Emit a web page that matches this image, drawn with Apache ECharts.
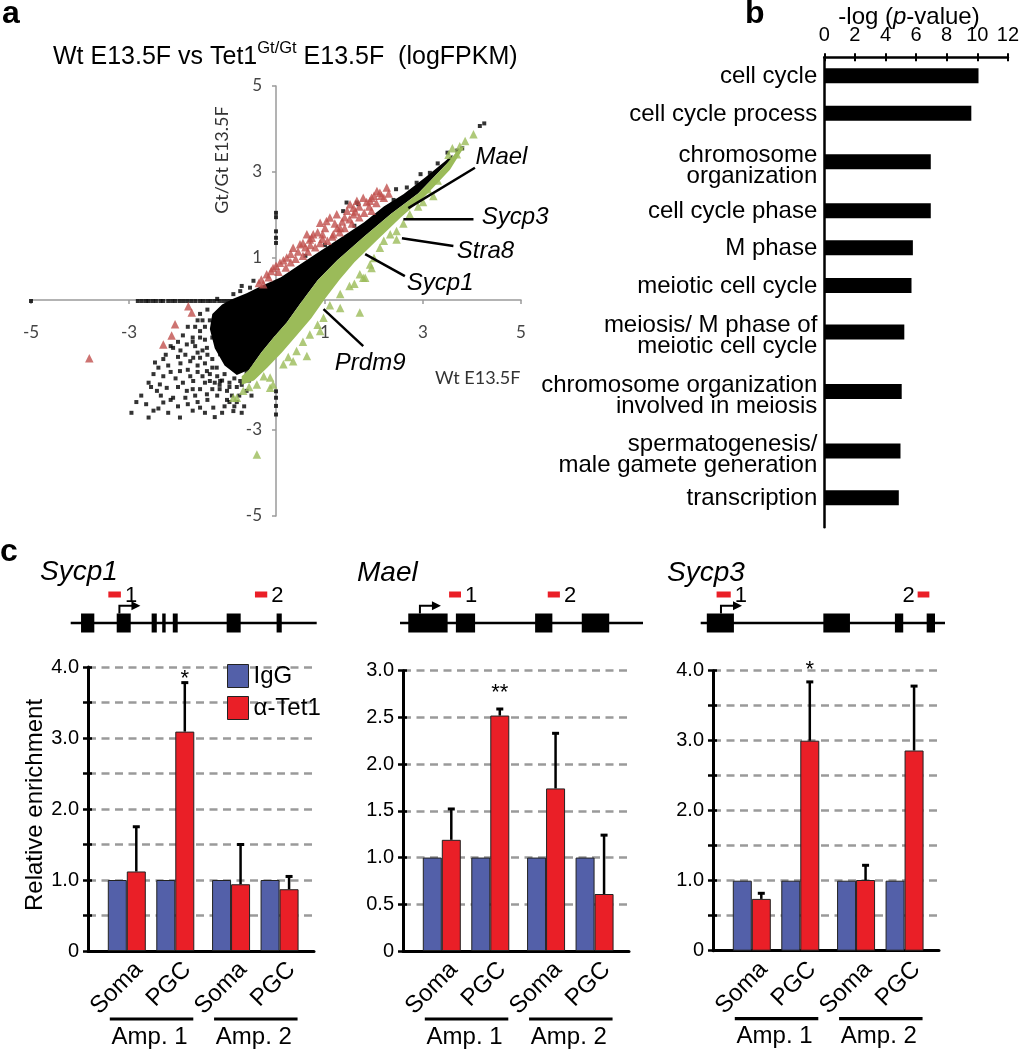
<!DOCTYPE html>
<html><head><meta charset="utf-8">
<script src="https://cdn.jsdelivr.net/npm/echarts@6/dist/echarts.min.js"></script>
<style>html,body{margin:0;padding:0;background:#fff}#c{width:1022px;height:1050px}</style>
</head><body><div id="c"></div>
<script>
// ================= DATA =================
// ---- Panel a : scatter (logFPKM, Wt vs Gt/Gt) ----
// outline of the dense black cloud (x = Wt, y = Gt/Gt)
const aBlackCore = [[-1.3,-0.3],[-1.1,-0.08],[-0.9,0.04],[-0.6,0.18],[-0.3,0.35],[0.1,0.55],[0.45,0.82],[0.85,1.12],[1.25,1.42],[1.8,1.83],[2.2,2.2],[2.6,2.48],[3.05,2.88],[3.45,3.25],[3.6,3.4],
  [3.6,3.3],[3.45,3.15],[2.9,2.5],[2.35,2.03],[1.8,1.5],[1.25,0.95],[0.85,0.48],[0.5,-0.05],[0.22,-0.5],[-0.05,-0.85],[-0.3,-1.2],[-0.55,-1.6],[-0.8,-1.72],[-1.05,-1.5],[-1.25,-1.1],[-1.35,-0.65]];
// outline of the dense green (down in Gt/Gt) band
const aGreenCore = [[-0.7,-1.75],[-0.55,-1.6],[-0.3,-1.2],[-0.05,-0.85],[0.22,-0.5],[0.5,-0.05],[0.85,0.48],[1.25,0.95],[1.8,1.5],[2.35,2.03],[2.9,2.5],[3.45,3.15],[3.75,3.55],
  [3.85,3.6],[3.55,3.05],[3.05,2.45],[2.55,1.95],[2.05,1.4],[1.6,0.9],[1.3,0.5],[1.0,0.05],[0.72,-0.4],[0.42,-0.8],[0.12,-1.2],[-0.18,-1.55],[-0.45,-1.85],[-0.7,-1.95]];
const aBlackPts = [
  [-2.6,-2.71],[-1.96,-2.71],[-2.47,-1.43],[-2.3,-2.36],[-2.1,-2.25],[-1.82,-2.09],[-1.55,-2.48],[-1.28,-2.48],[-0.87,-2.56],[-1.14,-1.86],
  [-1.41,-1.63],[-1.69,-1.32],[-1.96,-1.63],[-2.23,-2.02],[-1.82,-1.01],[-1.55,-0.7],[-1.28,-0.54],[-2.1,-1.09],[-1.41,-1.09],[-1.0,-2.09],
  [-0.73,-1.86],[-0.87,-1.47],[-1.14,-1.24],[-1.0,-0.85],[-1.35,-1.86],[-1.69,-1.86],[-1.55,-1.32],[-1.21,-1.55],[-0.87,-1.09],[-0.6,-1.24],
  [-0.46,-1.55],[-0.6,-2.09],[-1.41,-2.17],[-2.37,-1.94],[-2.43,-2.09],[-1.5,-0.45],[-1.65,-0.6],[-1.7,-0.85],[-1.9,-0.8],[-2.0,-1.3],
  [-2.2,-1.5],[-2.5,-1.7],[-2.55,-2.0],[-2.4,-2.5],[-2.2,-2.6],[-1.8,-2.4],[-1.65,-2.2],[-1.4,-2.3],[-1.2,-2.2],[-1.1,-2.6],
  [-0.95,-2.35],[-0.75,-2.2],[-0.65,-2.45],[-0.7,-2.6],[-1.6,-1.5],[-1.8,-1.6],[-1.9,-1.9],[-2.05,-1.8],[-1.45,-1.9],[-1.3,-1.35],
  [-1.5,-1.15],[-1.65,-1.05],[-1.95,-1.15],[-2.25,-1.25],[-2.6,-1.9],[-2.75,-2.2],[-1.3,-0.85],[-1.45,-0.9],[-1.15,-1.95],[-0.95,-1.9],
  [-0.85,-1.8],[-1.55,-2.05],[-1.75,-1.75],[-2.15,-2.3],[-2.3,-1.75],[-1.25,-2.7],[-1.7,-2.55],[-2.0,-2.45],[-2.5,-2.55],[-2.95,-2.6],
  [-2.85,-2.35],[-1.45,-0.6],[-1.55,-0.85],[-1.4,-1.25],[-1.3,-1.55],[-1.2,-1.75],[-1.05,-1.7],[-0.95,-2.0],[-0.8,-2.0],[-0.7,-1.95],
  [-0.55,-1.85],[-0.5,-2.2],[-0.85,-2.45],[-1.0,-2.3],[-1.15,-2.05],[-1.3,-2.05],[-1.5,-1.75],[-1.6,-1.65],[-1.75,-1.4],[-1.85,-1.25],
  [-1.6,-1.2],[-1.7,-0.95],[-1.45,-1.45],[-1.35,-1.7],[-1.25,-1.9],[-1.1,-1.85],[-0.9,-2.2],[-0.6,-1.65],[-0.65,-1.8],[-1.35,-0.45],
  [-1.6,-0.45],[-1.8,-0.6],[-2.0,-0.95],[-2.15,-1.05],[-2.3,-1.35],[-2.4,-1.55],[-2.15,-1.65],[-1.95,-1.45],[-2.0,-2.0],[-1.7,-2.05],
  [-1.85,-2.25],[-1.6,-2.35],[-1.45,-2.6],[-1.05,-2.45],[-0.8,-2.35],[-2.65,-2.4],[-2.35,-2.2],
  [-0.87,0.16],[-0.73,0.23],[-0.53,0.31],[-0.46,0.47],[-0.7,0.35],[-1.2,0.05],[-1.4,-0.2],[-1.55,-0.3],
  [1.44,2.29],[1.68,2.25],[2.67,2.64],[2.87,2.75],[3.14,2.98],[4.16,4.07],[4.25,4.13],[1.65,2.29],[1.37,2.09],[2.45,2.6],
  [2.95,2.95],[3.3,3.2],[3.5,3.45],[3.7,3.5],[3.8,3.55],[0.6,1.05],[1.0,1.3],[1.6,1.75],[2.4,2.35],
  [-5,0],[-2.82,0],[-2.74,0],[-2.66,0],[-2.6,0],[-2.52,0],[-2.45,0],[-2.36,0],[-2.3,0],[-2.2,0],[-2.12,0],[-2.05,0],[-1.96,0],
  [-1.88,0],[-1.8,0],[-1.72,0],[-1.64,0],[-1.55,0],[-1.48,0],[-1.4,0],[-1.33,0],[-1.25,0],[-1.16,0],[-1.08,0],[-1.0,0],[-0.92,0],
  [0,2.05],[0,1.95],[0,1.62],[0,1.47],[0,1.35],[0,-2.1],[0,-2.25],[0,-2.44],[0,-2.64]];
const aGreenPts = [
  [4.03,3.88],[3.86,3.72],[3.69,3.41],[3.52,3.4],[3.75,3.6],[3.6,3.55],[3.21,2.44],[2.73,2.02],[2.46,1.63],[2.46,1.43],
  [2.12,1.24],[1.95,0.77],[1.82,0.54],[2.33,1.55],[1.92,0.85],[1.71,0.62],[1.78,0.54],[1.31,0.16],[1.71,-0.27],[1.31,-0.16],
  [0.97,-0.39],[0.69,-0.78],[0.42,-1.16],[0.15,-1.47],[-0.12,-1.78],[-0.39,-1.94],[-0.67,-2.09],[-0.8,-2.25],[-0.12,-2.02],[0.63,-1.28],
  [0.35,-1.4],[-0.06,-1.94],[-0.87,-2.25],[-0.39,-3.57],[3.0,2.3],[2.9,2.2],[2.6,1.8],[2.2,1.4],[1.5,0.35],[1.1,-0.1],
  [0.85,-0.55],[0.55,-0.95],[0.25,-1.3],[-0.25,-1.75],[-0.55,-2.0],[3.3,2.8],[3.1,2.6],[2.0,1.0],[1.6,0.4],[0.9,-0.7]];
const aRedPts = [
  [2.26,2.64],[2.06,2.56],[1.78,2.4],[1.58,2.17],[1.1,1.94],[0.9,1.82],[0.63,1.55],[0.35,1.24],[0.73,1.47],[1.17,1.55],
  [1.31,1.7],[-0.06,0.77],[-0.19,0.62],[-0.26,0.39],[1.92,2.33],[1.58,2.02],[2.12,2.52],[1.95,2.4],[1.03,1.86],[0.76,1.55],
  [0.69,1.43],[0.49,1.32],[0.22,1.01],[0.08,0.89],[1.24,2.02],[1.51,2.25],[1.65,2.33],[1.4,1.95],[1.45,2.1],[1.7,2.2],
  [1.85,2.3],[2.0,2.45],[2.15,2.45],[1.0,1.7],[0.85,1.6],[0.55,1.35],[0.45,1.15],[0.3,1.1],[0.15,0.95],[-0.1,0.7],
  [1.2,1.8],[1.35,1.85],[0.95,1.55],[0.6,1.25],[1.62,2.08],[1.9,2.2],[2.2,2.4],[-0.3,0.5],[0.0,0.82],
  [0.05,0.68],[0.2,0.78],[0.3,0.9],[0.4,0.98],[0.55,1.05],[0.65,1.15],[0.8,1.25],[0.9,1.35],[1.05,1.4],[1.15,1.5],
  [1.3,1.6],[1.4,1.7],[1.55,1.8],[1.7,1.95],[1.8,2.05],[1.95,2.1],[2.05,2.28],[2.3,2.5],[1.25,1.7],[0.95,1.45],
  [0.7,1.3],[1.5,1.9],[-0.35,0.42],[-0.15,0.55],
  [-1.79,-0.12],[-1.72,-0.27],[-2.06,-0.54],[-2.13,-0.8],[-2.3,-1.01],[-3.81,-1.33]];
const aTickVals = [-5,-3,-1,1,3,5];
const aTickLabels = [-5,-3,1,3,5];
const aGeneNames = ['Mael','Sycp3','Stra8','Sycp1','Prdm9'];
const aLeaderFrom = [[4.06,3.1],[4.03,1.9],[3.62,1.28],[2.63,0.58],[1.78,-1.05]];
const aLeaderTo = [[2.70,2.16],[2.6,1.9],[2.57,1.46],[1.82,1.09],[0.97,-0.19]];
const aLabelAt = [[4.07,3.33],[4.2,1.95],[3.69,1.16],[2.67,0.42],[1.2,-1.44]];

// ---- Panel b : GO terms ----
const goTerms = ['cell cycle','cell cycle process','chromosome\norganization','cell cycle phase','M phase','meiotic cell cycle',
  'meiosis/ M phase of\nmeiotic cell cycle','chromosome organization\ninvolved in meiosis','spermatogenesis/\nmale gamete generation','transcription'];
const goValues = [10.08,9.61,6.96,6.96,5.79,5.70,5.23,5.06,4.98,4.87];
const goTicks = [0,2,4,6,8,10,12];

// ---- Panel c : ChIP-qPCR ----
const cCats = ['Soma','PGC','Soma','PGC'];
const cGroups = ['Amp. 1','Amp. 2'];
const cGroupOf = [0,0,1,1];
const sycp1IgG = [1.0,1.0,1.0,1.0];
const sycp1Tet1 = [1.12,3.09,0.94,0.87];
const sycp1Err = [0.63,0.69,0.56,0.18];
const sycp1Sig = ['','*','',''];
const sycp1SigY = [0,3.92,0,0];
const maelIgG = [1.0,1.0,1.0,1.0];
const maelTet1 = [1.19,2.52,1.74,0.61];
const maelErr = [0.33,0.07,0.59,0.63];
const maelSig = ['','**','',''];
const maelSigY = [0,2.83,0,0];
const sycp3IgG = [1.0,1.0,1.0,1.0];
const sycp3Tet1 = [0.74,3.00,1.01,2.86];
const sycp3Err = [0.08,0.84,0.21,0.92];
const sycp3Sig = ['','*','',''];
const sycp3SigY = [0,4.1,0,0];
const sycp1Ticks = [0,1,2,3,4];
const maelTicks = [0,0.5,1,1.5,2,2.5,3];
const sycp3Ticks = [0,1,2,3,4];

// gene models (position along locus, 0-100)
const sycp1Exons = [[4.2,9.6],[18.7,24.4],[32.9,35.0],[37.2,38.6],[41.5,43.5],[63.4,69.1],[83.7,85.8]];
const sycp1Tss = 19.8;
const sycp1Primers = [[15.3,20.4],[74.9,79.9]];
const maelExons = [[3.4,19.6],[23.0,30.9],[55.6,62.7],[74.8,86.1]];
const maelTss = 8.2;
const maelPrimers = [[20.2,25.1],[60.8,65.8]];
const sycp3Exons = [[2.5,13.6],[50.2,61.1],[79.5,82.9],[92.5,95.9]];
const sycp3Tss = 8.3;
const sycp3Primers = [[6.5,12.3],[88.8,93.6]];
const primerNames = ['1','2'];

// ================= LAYOUT (not data) =================
const goRowPos = [18.5,56,104.4,153.4,190.5,228.2,274.7,334.2,393.7,440.4]; // row centres, px below axis
const slotX = [0,1,2.15,3.15]; // horizontal slots of the four sample groups
const sycp3LabelSide = ['right','left'];

const FONT = '"Liberation Sans", Arial, Helvetica, sans-serif';
const AFONT = 'Lato, "DejaVu Sans", sans-serif';
const BLUE = '#5360a9', RED = '#ea1f27';
const XLRED = '#c0504d', XLGREEN = '#9bbb59';

// ================= HELPERS =================
function polygonSeries(pts, color, z) {
  return {type:'custom', xAxisIndex:0, yAxisIndex:0, z, silent:true, data: pts,
    renderItem(params, api) {
      if (params.dataIndex !== 0) return;
      return {type:'polygon', shape:{points: pts.map(p => api.coord(p))}, style:{fill: color}};
    }};
}
function hiddenX(g){return {type:'value', gridIndex:g, min:0, max:100, show:false};}
function hiddenY(g){return {type:'value', gridIndex:g, min:-1, max:1, show:false};}
function cX(g){return {type:'value', gridIndex:g, min:-0.8, max:3.86,
  axisLine:{show:true, onZero:false, lineStyle:{color:'#000', width:3}}, axisTick:{show:false}, axisLabel:{show:false}, splitLine:{show:false}};}
function cY(g, max, labels){return {type:'value', gridIndex:g, min:0, max, interval:0.5,
  axisLine:{show:true, onZero:false, lineStyle:{color:'#000', width:3}},
  axisTick:{show:true, length:5, lineStyle:{color:'#000', width:2.5}},
  axisLabel:{customValues:labels, formatter:v => v === 0 ? '0' : v.toFixed(1), fontSize:20, color:'#000', margin:9, fontFamily:FONT},
  splitLine:{show:true, lineStyle:{color:'#9a9a9a', width:2.5, type:[8,5.5]}}};}
function cYInner(g, max){return {type:'value', gridIndex:g, min:0, max, interval:0.5, position:'left',
  axisLine:{show:false, onZero:false}, axisTick:{show:true, inside:true, length:4, lineStyle:{color:'#000', width:2.5}},
  axisLabel:{show:false}, splitLine:{show:false}};}

function barSeries(k, igg, tet) {
  return [
    {type:'bar', name:'IgG', xAxisIndex:k, yAxisIndex:k, data: slotX.map((x,i)=>[x, igg[i]]), barWidth:19, barGap:'0%',
      itemStyle:{color:BLUE, borderColor:'#222', borderWidth:1}, z:3},
    {type:'bar', name:'α-Tet1', xAxisIndex:k, yAxisIndex:k, data: slotX.map((x,i)=>[x, tet[i]]), barWidth:19, barGap:'0%',
      itemStyle:{color:RED, borderColor:'#222', borderWidth:1}, z:3}
  ];
}
function errSeries(k, tet, err) {
  return {type:'custom', xAxisIndex:k, yAxisIndex:k, z:4, silent:true, data: slotX.map((x,i)=>[x, tet[i]]),
    renderItem(params, api) {
      const i = params.dataIndex;
      const a = api.coord([slotX[i], tet[i]]), b = api.coord([slotX[i], tet[i] + err[i]]);
      const x = a[0] + 9.5;
      return {type:'group', children:[
        {type:'line', shape:{x1:x, y1:a[1], x2:x, y2:b[1]}, style:{stroke:'#000', lineWidth:2.5}},
        {type:'line', shape:{x1:x-3.5, y1:b[1], x2:x+3.5, y2:b[1]}, style:{stroke:'#000', lineWidth:3}}
      ]};
    }};
}
function annotSeries(k, sig, sigY) {
  return {type:'custom', xAxisIndex:k, yAxisIndex:k, z:5, silent:true, data: slotX.map(x=>[x, 0]),
    renderItem(params, api) {
      const i = params.dataIndex;
      const p = api.coord([slotX[i], 0]);
      const ch = [{type:'text', x:p[0]+12, y:p[1]+15, rotation:Math.PI/4,
        style:{text:cCats[i], align:'right', verticalAlign:'middle', fontSize:24, fontFamily:FONT, fill:'#000'}}];
      if (sig[i]) {
        const s = api.coord([slotX[i], sigY[i]]);
        ch.push({type:'text', x:s[0]+9.5, y:s[1]+6, style:{text:sig[i], align:'center', verticalAlign:'middle', fontSize:22, fontFamily:FONT, fill:'#000'}});
      }
      if (i % 2 === 1) {
        const q = api.coord([slotX[i-1], 0]);
        const x1 = q[0]-17, x2 = p[0]+18;
        ch.push({type:'line', shape:{x1, y1:p[1]+68, x2, y2:p[1]+68}, style:{stroke:'#000', lineWidth:3.2}});
        ch.push({type:'text', x:(x1+x2)/2 - 2, y:p[1]+86, style:{text:cGroups[cGroupOf[i]], align:'center', verticalAlign:'middle', fontSize:24, fontFamily:FONT, fill:'#000'}});
      }
      return {type:'group', children:ch};
    }};
}
function geneSeries(k, exons, tss, primers, sides) {
  return {type:'custom', xAxisIndex:k, yAxisIndex:k, z:3, silent:true, data: exons,
    renderItem(params, api) {
      const i = params.dataIndex;
      const e = exons[i];
      const a = api.coord([e[0], 0]), b = api.coord([e[1], 0]);
      const ch = [{type:'rect', shape:{x:a[0], y:a[1]-9.5, width:b[0]-a[0], height:19}, style:{fill:'#000'}}];
      if (i === 0) {
        const l0 = api.coord([0,0]), l1 = api.coord([100,0]);
        ch.push({type:'line', shape:{x1:l0[0], y1:l0[1], x2:l1[0], y2:l1[1]}, style:{stroke:'#000', lineWidth:2.5}});
        const t = api.coord([tss, 0]);
        const yTop = t[1] - 17.3;
        ch.push({type:'polyline', shape:{points:[[t[0], t[1]-9.5],[t[0], yTop],[t[0]+14, yTop]]}, style:{stroke:'#000', lineWidth:2, fill:null}});
        ch.push({type:'polygon', shape:{points:[[t[0]+12, yTop-4.5],[t[0]+21, yTop],[t[0]+12, yTop+4.5]]}, style:{fill:'#000'}});
        primers.forEach((pr, j) => {
          const p0 = api.coord([pr[0], 0]), p1 = api.coord([pr[1], 0]);
          const yc = p0[1] - 28.5;
          ch.push({type:'rect', shape:{x:p0[0], y:yc-3, width:p1[0]-p0[0], height:6}, style:{fill:RED}});
          const side = sides ? sides[j] : 'right';
          ch.push({type:'text', x: side === 'right' ? p1[0]+4 : p0[0]-3, y: yc+1,
            style:{text:primerNames[j], align: side === 'right' ? 'left' : 'right', verticalAlign:'middle', fontSize:22, fontFamily:FONT, fill:'#000'}});
        });
      }
      return {type:'group', children:ch};
    }};
}
function gtext(text, x, y, opts) {
  return Object.assign({type:'text', x, y, silent:true, style:Object.assign({text, fill:'#000', fontFamily:FONT, fontSize:24,
    align:'left', verticalAlign:'middle', textAlign:'left', textVerticalAlign:'middle'}, opts && opts.style)}, opts && opts.el);
}

// ================= OPTION =================
const option = {
  animation:false,
  backgroundColor:'#fff',
  textStyle:{fontFamily:FONT},
  grid:[
    {left:31, top:86, width:490, height:430},
    {left:824.3, top:57.3, width:187.4, height:470},
    {left:88, top:667, width:226, height:284},
    {left:403, top:670.7, width:226, height:280.3},
    {left:713, top:670.7, width:226, height:280},
    {left:70.7, top:603, width:246, height:40},
    {left:400, top:603, width:243, height:40},
    {left:700.7, top:603, width:244.3, height:40}
  ],
  xAxis:[
    // crossing axes of panel a: moved onto the zero line with a negative offset
    {type:'value', gridIndex:0, min:-5, max:5, position:'bottom', offset:-216,
      axisLine:{onZero:false, lineStyle:{color:'#9a9a9a', width:1.5}},
      axisTick:{customValues:aTickVals, length:4, lineStyle:{color:'#9a9a9a', width:1.5}},
      axisLabel:{customValues:aTickLabels, margin:24, fontFamily:AFONT, fontSize:17, color:'#444'},
      splitLine:{show:false}},
    {type:'value', gridIndex:1, position:'top', min:0, max:12, interval:2,
      axisLine:{onZero:false, lineStyle:{color:'#000', width:2.5}},
      axisTick:{length:4, lineStyle:{color:'#000', width:2}},
      axisLabel:{customValues:goTicks, margin:12, fontSize:20, color:'#000', fontFamily:FONT},
      splitLine:{show:false}},
    cX(2), cX(3), cX(4),
    hiddenX(5), hiddenX(6), hiddenX(7),
    {type:'value', gridIndex:1, position:'top', min:0, max:12, interval:2,
      axisLine:{show:false, onZero:false}, axisTick:{show:true, inside:true, length:4, lineStyle:{color:'#000', width:2}},
      axisLabel:{show:false}, splitLine:{show:false}}
  ],
  yAxis:[
    {type:'value', gridIndex:0, min:-5, max:5, position:'left', offset:-245,
      axisLine:{onZero:false, lineStyle:{color:'#9a9a9a', width:1.5}},
      axisTick:{customValues:aTickVals, length:4, lineStyle:{color:'#9a9a9a', width:1.5}},
      axisLabel:{customValues:aTickLabels, margin:14, fontFamily:AFONT, fontSize:17, color:'#444'},
      splitLine:{show:false}},
    {type:'value', gridIndex:1, min:0, max:470, inverse:true,
      axisLine:{show:true, onZero:false, lineStyle:{color:'#000', width:2.5}},
      axisTick:{show:false}, axisLabel:{show:false}, splitLine:{show:false}},
    cY(2, 4, sycp1Ticks), cY(3, 3, maelTicks), cY(4, 4, sycp3Ticks),
    hiddenY(5), hiddenY(6), hiddenY(7),
    cYInner(2, 4), cYInner(3, 3), cYInner(4, 4)
  ],
  legend:{data:['IgG','α-Tet1'], orient:'vertical', left:227, top:664, itemWidth:21, itemHeight:23, itemGap:8, padding:0,
    icon:'rect', selectedMode:false, itemStyle:{borderColor:'#222', borderWidth:1},
    textStyle:{fontSize:24, color:'#000', fontFamily:FONT}},
  graphic:[
    gtext('a', 2, 14, {style:{fontSize:32, fontWeight:'bold'}}),
    gtext('b', 745, 14, {style:{fontSize:32, fontWeight:'bold'}}),
    gtext('c', 0, 552, {style:{fontSize:32, fontWeight:'bold'}}),
    {type:'text', x:53, y:57, silent:true, style:{
      text:'{n|Wt E13.5F vs Tet1}{s|Gt/Gt}{n| E13.5F  (logFPKM)}', verticalAlign:'middle', textVerticalAlign:'middle', align:'left',
      rich:{n:{fontSize:25, fontFamily:FONT, lineHeight:35, fill:'#000', color:'#000'}, s:{fontSize:16.5, fontFamily:FONT, lineHeight:16, verticalAlign:'top', fill:'#000', color:'#000'}}}},
    gtext('Gt/Gt E13.5F', 222.5, 160, {el:{rotation:Math.PI/2}, style:{fontSize:18, fontFamily:AFONT, fill:'#333', align:'center', textAlign:'center'}}),
    gtext('Wt E13.5F', 435, 378, {style:{fontSize:18, fontFamily:AFONT, fill:'#333'}}),
    {type:'text', x:909, y:17, silent:true, style:{
      text:'{n|-log (}{i|p}{n|-value)}', align:'center', textAlign:'center', verticalAlign:'middle', textVerticalAlign:'middle',
      rich:{n:{fontSize:24, fontFamily:FONT, fill:'#000', color:'#000'}, i:{fontSize:24, fontFamily:FONT, fontStyle:'italic', fill:'#000', color:'#000'}}}},
    gtext('Relative enrichment', 35, 805, {el:{rotation:Math.PI/2}, style:{fontSize:24, align:'center', textAlign:'center'}}),
    gtext('Sycp1', 40, 572, {style:{fontSize:28, fontStyle:'italic'}}),
    gtext('Mael', 357, 573, {style:{fontSize:28, fontStyle:'italic'}}),
    gtext('Sycp3', 667, 573, {style:{fontSize:28, fontStyle:'italic'}})
  ],
  series:[
    // ---- panel a ----
    polygonSeries(aBlackCore, '#000', 2),
    {type:'scatter', xAxisIndex:0, yAxisIndex:0, z:2, symbol:'rect', symbolSize:4, itemStyle:{color:'#000'}, data:aBlackPts, silent:true},
    polygonSeries(aGreenCore, XLGREEN, 3),
    {type:'scatter', xAxisIndex:0, yAxisIndex:0, z:3, symbol:'triangle', symbolSize:8.5, itemStyle:{color:XLGREEN}, data:aGreenPts, silent:true},
    {type:'scatter', xAxisIndex:0, yAxisIndex:0, z:4, symbol:'triangle', symbolSize:8.5, itemStyle:{color:XLRED}, data:aRedPts, silent:true},
    {type:'custom', xAxisIndex:0, yAxisIndex:0, z:6, silent:true, data:aLabelAt,
      renderItem(params, api) {
        const i = params.dataIndex;
        const f = api.coord(aLeaderFrom[i]), t = api.coord(aLeaderTo[i]), l = api.coord(aLabelAt[i]);
        return {type:'group', children:[
          {type:'line', shape:{x1:f[0], y1:f[1], x2:t[0], y2:t[1]}, style:{stroke:'#000', lineWidth:2.5}},
          {type:'text', x:l[0], y:l[1], style:{text:aGeneNames[i], align:'left', verticalAlign:'middle', fontSize:24, fontStyle:'italic', fontFamily:FONT, fill:'#000'}}
        ]};
      }},
    // ---- panel b ----
    {type:'custom', xAxisIndex:1, yAxisIndex:1, z:3, silent:true, data: goValues.map((v,i)=>[v, goRowPos[i]]),
      renderItem(params, api) {
        const i = params.dataIndex;
        const p0 = api.coord([0, goRowPos[i]]), p1 = api.coord([goValues[i], goRowPos[i]]);
        const two = goTerms[i].indexOf('\n') >= 0;
        return {type:'group', children:[
          {type:'rect', shape:{x:p0[0], y:p0[1]-7.5, width:p1[0]-p0[0], height:15}, style:{fill:'#000'}},
          {type:'text', x:p0[0]-7, y:p0[1] + (two ? 4 : 1), style:{text:goTerms[i], align:'right', verticalAlign:'middle', fontSize:24, lineHeight:21, fontFamily:FONT, fill:'#000'}}
        ]};
      }},
    // ---- panel c ----
    ...barSeries(2, sycp1IgG, sycp1Tet1), errSeries(2, sycp1Tet1, sycp1Err), annotSeries(2, sycp1Sig, sycp1SigY),
    ...barSeries(3, maelIgG, maelTet1), errSeries(3, maelTet1, maelErr), annotSeries(3, maelSig, maelSigY),
    ...barSeries(4, sycp3IgG, sycp3Tet1), errSeries(4, sycp3Tet1, sycp3Err), annotSeries(4, sycp3Sig, sycp3SigY),
    geneSeries(5, sycp1Exons, sycp1Tss, sycp1Primers, null),
    geneSeries(6, maelExons, maelTss, maelPrimers, null),
    geneSeries(7, sycp3Exons, sycp3Tss, sycp3Primers, sycp3LabelSide)
  ]
};
const chart = echarts.init(document.getElementById('c'), null, {renderer:'canvas', width:1022, height:1050});
chart.setOption(option);
</script></body></html>
